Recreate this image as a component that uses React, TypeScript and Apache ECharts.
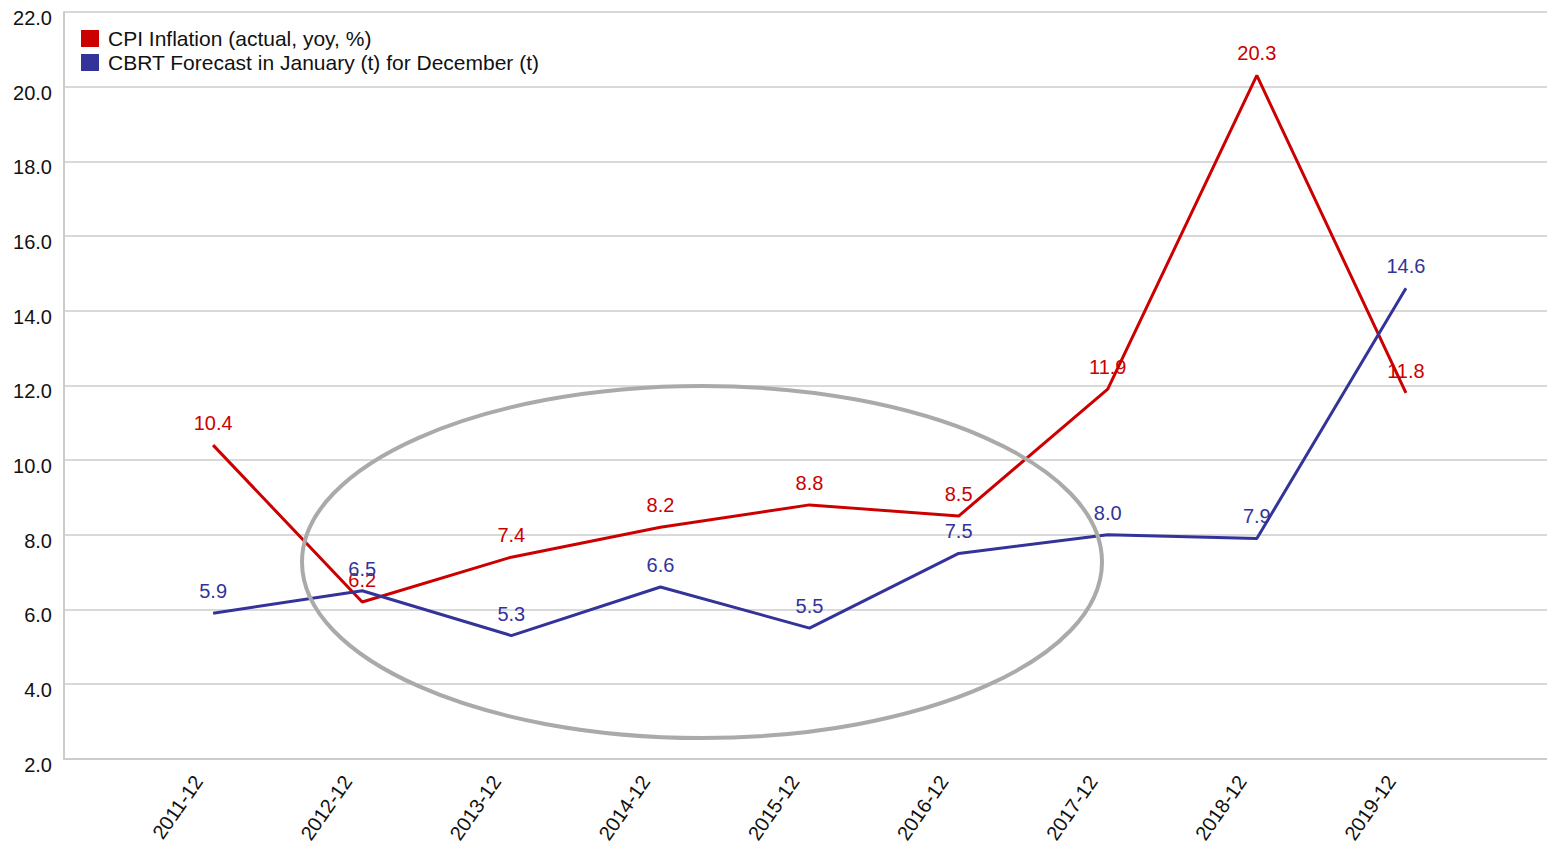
import React, { useEffect, useRef } from "react";
import * as echarts from "echarts";

const categories = ["2011-12", "2012-12", "2013-12", "2014-12", "2015-12", "2016-12", "2017-12", "2018-12", "2019-12"];
const cpiInflation = [10.4, 6.2, 7.4, 8.2, 8.8, 8.5, 11.9, 20.3, 11.8];
const cbrtForecast = [5.9, 6.5, 5.3, 6.6, 5.5, 7.5, 8.0, 7.9, 14.6];
const seriesNames = ["CPI Inflation (actual, yoy, %)", "CBRT Forecast in January (t) for December (t)"];
const yTicks = { min: 2, max: 22, interval: 2 };

const FONT = "Liberation Sans, Arial, sans-serif";

export default function App() {
  const ref = useRef<HTMLDivElement>(null);
  useEffect(() => {
    if (!ref.current) return;
    const chart = echarts.init(ref.current, null, { renderer: "svg" });
    const toPairs = (arr: number[]) => arr.map((v, i) => [i, v]);
    const makeSeries = (name: string, data: number[], color: string, z: number) => ({
      name,
      type: "line",
      data: toPairs(data),
      symbol: "circle",
      symbolSize: 0.01,
      showSymbol: true,
      lineStyle: { color, width: 3 },
      itemStyle: { color },
      label: {
        show: true,
        position: "top",
        distance: 12,
        fontSize: 20,
        fontFamily: FONT,
        color,
        formatter: (p: any) => p.value[1].toFixed(1),
      },
      labelLayout: { hideOverlap: false },
      z,
    });
    chart.setOption({
      animation: false,
      textStyle: { fontFamily: FONT },
      grid: { left: 64, top: 12, bottom: 86, right: 0 },
      legend: {
        left: 81,
        top: 28,
        padding: 0,
        orient: "vertical",
        itemWidth: 18,
        itemHeight: 17,
        itemGap: 3,
        icon: "rect",
        textStyle: { fontSize: 21, color: "#111", fontFamily: FONT, padding: [0, 0, 0, 4] },
        data: seriesNames,
      },
      xAxis: {
        type: "value",
        min: -1,
        max: 8.946,
        interval: 1,
        axisLine: { show: true, onZero: false, lineStyle: { color: "#cccccc", width: 2 } },
        axisTick: { show: false },
        splitLine: { show: false },
        axisLabel: {
          rotate: 55,
          fontSize: 20,
          fontFamily: FONT,
          color: "#111",
          margin: 22,
          verticalAlign: "bottom",
          padding: [0, 6, 4, 0],
          showMaxLabel: false,
          showMinLabel: false,
          formatter: (v: number) => {
            const i = Math.round(v);
            return Math.abs(v - i) < 1e-6 && i >= 0 && i < categories.length ? categories[i] : "";
          },
        },
      },
      yAxis: {
        type: "value",
        min: yTicks.min,
        max: yTicks.max,
        interval: yTicks.interval,
        axisLine: { show: true, onZero: false, lineStyle: { color: "#cccccc", width: 2 } },
        axisTick: { show: false },
        splitLine: { show: true, lineStyle: { color: "#cccccc", width: 1.5 } },
        axisLabel: {
          fontSize: 20,
          fontFamily: FONT,
          color: "#111",
          margin: 12,
          verticalAlign: "top",
          lineHeight: 12,
          formatter: (v: number) => v.toFixed(1),
        },
      },
      series: [
        makeSeries(seriesNames[0], cpiInflation, "#cc0000", 3),
        makeSeries(seriesNames[1], cbrtForecast, "#333399", 4),
      ],
      graphic: [
        {
          type: "ellipse",
          shape: { cx: 702, cy: 562, rx: 400, ry: 176 },
          style: { fill: "none", stroke: "#aaaaaa", lineWidth: 4 },
          z: 10,
        },
      ],
    });
    return () => chart.dispose();
  }, []);
  return (
    <div
      ref={ref}
      style={{ position: "absolute", left: 0, top: 0, width: 1547, height: 846, background: "#fff" }}
    />
  );
}
